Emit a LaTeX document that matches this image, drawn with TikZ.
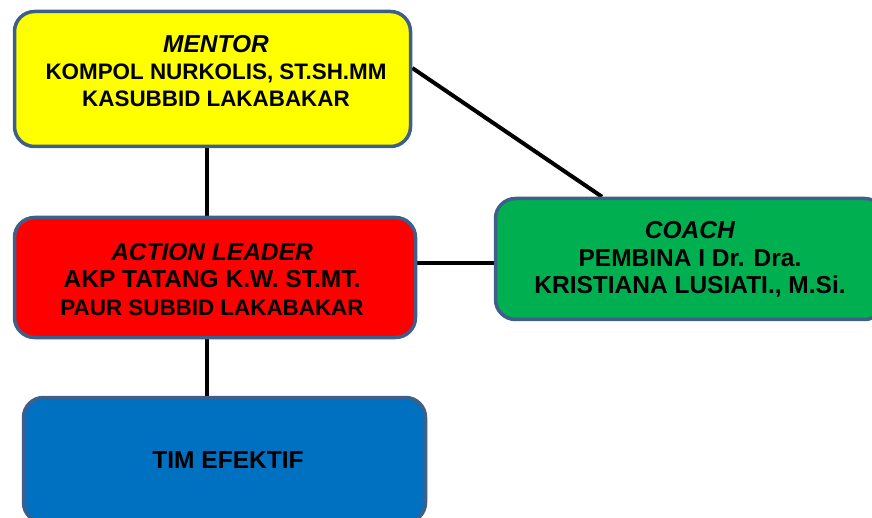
\documentclass[tikz,border=0pt]{standalone}
\usepackage{fontspec}
\setmainfont{Liberation Sans}
\usetikzlibrary{backgrounds}
\definecolor{bordc}{HTML}{3E5F8A}
\definecolor{ylw}{HTML}{FFFF00}
\definecolor{rd}{HTML}{FF0000}
\definecolor{grn}{HTML}{00B050}
\definecolor{blu}{HTML}{0070C0}
\tikzset{
  box/.style={draw=bordc, line width=3.5pt, rounded corners=20pt, rectangle, inner sep=0pt},
  txt/.style={align=center, font=\bfseries, text=black, inner sep=0pt},
  conn/.style={draw=black, line width=4pt},
  big/.style={font=\fontsize{24.5}{27.5}\selectfont\bfseries},
}
\newcommand{\smalltxt}{\fontsize{22.4}{26}\selectfont}
\begin{document}
\begin{tikzpicture}[x=1pt,y=-1pt]
\useasboundingbox (0,0) rectangle (872,518);
\node[box, fill=ylw, minimum width=396pt, minimum height=135pt] (mentorbox) at (212.5,79) {};
\node[box, fill=rd, minimum width=401pt, minimum height=120pt] (actionbox) at (215,277.5) {};
\node[box, fill=grn, minimum width=389pt, minimum height=121pt] (coachbox) at (690,259) {};
\node[box, fill=blu, minimum width=402pt, minimum height=125pt] (timbox) at (224.5,460) {};

\node[txt, big] (mentortxt) at (216,71.5) {\textit{MENTOR}\\[-1pt]{\smalltxt KOMPOL NURKOLIS, ST.SH.MM}\\{\smalltxt KASUBBID LAKABAKAR}};
\node[txt, big] (actiontxt) at (212,279.5) {\textit{ACTION LEADER}\\AKP TATANG K.W. ST.MT.\\{\smalltxt PAUR SUBBID LAKABAKAR}};
\node[txt, big] (coachtxt) at (690,259.5) {\textit{COACH}\\PEMBINA I Dr. Dra.\\KRISTIANA LUSIATI., M.Si.};
\node[txt, big] (timtxt) at (228,460) {TIM EFEKTIF};

\begin{scope}[on background layer]
\coordinate (vx) at (207,0);
\draw[conn] (mentorbox.south -| vx) -- (actionbox.north -| vx);
\draw[conn] (actionbox.south -| vx) -- (timbox.north -| vx);
\coordinate (hy) at (0,263);
\draw[conn] (actionbox.east |- hy) -- (coachbox.west |- hy);
\coordinate (dy) at (0,68);
\coordinate (dx) at (602,0);
\draw[conn] (mentorbox.east |- dy) -- (coachbox.north -| dx);
\end{scope}
\end{tikzpicture}
\end{document}
